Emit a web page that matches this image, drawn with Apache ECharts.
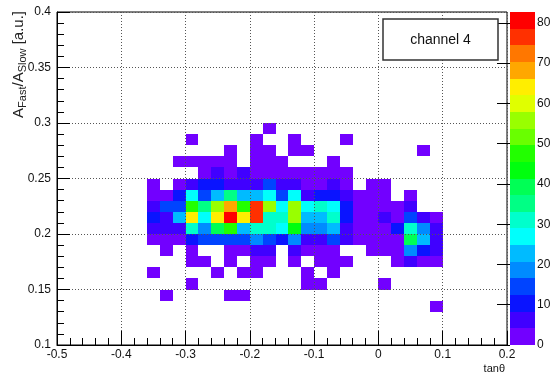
<!DOCTYPE html>
<html><head><meta charset="utf-8">
<script src="https://cdn.jsdelivr.net/npm/echarts@6/dist/echarts.min.js"></script>
<style>html,body{margin:0;padding:0;background:#fff}#c{width:554px;height:374px}</style>
</head><body><div id="c"></div>
<script>
// bin lower edges (x: tanθ, width 0.02; y: A_Fast/A_Slow, height 0.01)
const xLow = [-0.36,-0.34,-0.32,-0.30,-0.28,-0.26,-0.24,-0.22,-0.20,-0.18,-0.16,-0.14,-0.12,-0.10,-0.08,-0.06,-0.04,-0.02,0.00,0.02,0.04,0.06,0.08];
const yLow = [0.13,0.14,0.15,0.16,0.17,0.18,0.19,0.20,0.21,0.22,0.23,0.24,0.25,0.26,0.27,0.28,0.29];
const binW = 0.02, binH = 0.01;
// counts per y row (same order as yLow), one value per xLow column
const row013 = [0,0,0,0,0,0,0,0,0,0,0,0,0,0,0,0,0,0,0,0,0,0,2];
const row014 = [0,2,0,0,0,0,2,2,0,0,0,0,0,0,0,0,0,0,0,0,0,0,0];
const row015 = [0,0,0,2,0,0,0,0,0,0,0,0,2,2,0,0,0,0,2,0,0,0,0];
const row016 = [2,0,0,0,0,2,0,2,2,0,0,0,2,0,2,0,0,0,0,0,0,0,0];
const row017 = [0,0,0,2,2,0,2,0,2,2,0,2,0,2,2,2,0,0,0,2,5,2,2];
const row018 = [0,2,0,2,0,0,2,2,6,6,0,6,2,2,2,0,0,2,2,2,18,11,6];
const row019 = [2,2,2,11,13,13,14,16,18,14,10,18,6,6,13,5,2,2,2,2,38,21,7];
const row020 = [5,5,6,31,18,40,46,23,31,31,27,44,18,18,22,6,2,2,2,10,31,18,7];
const row021 = [12,6,22,63,27,63,81,63,76,31,31,56,22,22,31,12,2,3,6,2,13,6,3];
const row022 = [6,14,14,46,35,55,68,46,76,56,28,56,28,32,28,12,2,2,3,2,6,0,0];
const row023 = [3,3,11,27,15,22,36,22,23,27,14,28,6,11,11,5,2,3,2,0,2,0,0];
const row024 = [2,0,3,5,9,10,7,7,7,13,6,6,3,3,5,2,0,2,2,0,0,0,0];
const row025 = [0,0,0,0,3,6,3,6,3,2,3,3,2,3,2,2,0,0,0,0,0,0,0];
const row026 = [0,0,2,2,3,2,3,0,2,2,2,0,0,0,2,0,0,0,0,0,0,0,0];
const row027 = [0,0,0,0,0,0,2,0,2,2,0,2,2,0,0,0,0,0,0,0,0,2,0];
const row028 = [0,0,0,2,0,0,0,0,2,0,0,2,0,0,0,2,0,0,0,0,0,0,0];
const row029 = [0,0,0,0,0,0,0,0,0,2,0,0,0,0,0,0,0,0,0,0,0,0,0];
const counts = [row013,row014,row015,row016,row017,row018,row019,row020,row021,row022,row023,row024,row025,row026,row027,row028,row029];
const zMax = 82.7;
const zTicks = [0,10,20,30,40,50,60,70,80];
const palette = ['#7200ff','#4000ff','#0a14ff','#0044ff','#008bff','#00bbff','#00fffc','#00ffcc','#00ff85','#00ff55',
                 '#00ff0e','#22ff00','#69ff00','#99ff00','#e0ff00','#ffee00','#ffa700','#ff7700','#ff3000','#ff0000'];
const nBands = palette.length;

function colorFor(v){ let k = Math.floor(v/(zMax/nBands)); if(k>=nBands) k=nBands-1; if(k<0) k=0; return palette[k]; }

const cells = [];
counts.forEach((row, r) => row.forEach((v, c) => { if (v > 0) cells.push([xLow[c], yLow[r], v]); }));
const bands = palette.map((col, k) => [k]);

const FONT = 'Liberation Sans';
const chart = echarts.init(document.getElementById('c'), null, {renderer:'canvas'});
chart.setOption({
  animation:false,
  backgroundColor:'#fff',
  grid:[
    {left:57, top:12, width:450, height:333, show:true, borderColor:'#000', borderWidth:1, backgroundColor:'transparent'},
    {left:510, top:12, width:25, height:333, show:false}
  ],
  xAxis:[
    {gridIndex:0, type:'value', min:-0.5, max:0.2, interval:0.1, z:5,
     axisLine:{show:true, onZero:false, lineStyle:{color:'#000', width:1}},
     axisTick:{show:true, inside:true, length:14, lineStyle:{color:'#000'}},
     minorTick:{show:true, splitNumber:5, length:7, lineStyle:{color:'#000'}},
     splitLine:{show:true, lineStyle:{color:'#555', type:[1,2], width:1}},
     axisLabel:{color:'#111', fontFamily:FONT, fontSize:12, margin:4}},
    {gridIndex:1, type:'value', min:0, max:1, show:false}
  ],
  yAxis:[
    {gridIndex:0, type:'value', min:0.1, max:0.4, interval:0.05, z:5,
     axisLine:{show:true, onZero:false, lineStyle:{color:'#000', width:1}},
     axisTick:{show:true, inside:true, length:13, lineStyle:{color:'#000'}},
     minorTick:{show:true, splitNumber:5, length:7, lineStyle:{color:'#000'}},
     splitLine:{show:true, lineStyle:{color:'#555', type:[1,2], width:1}},
     axisLabel:{color:'#111', fontFamily:FONT, fontSize:12, margin:6}},
    {gridIndex:1, type:'value', min:0, max:zMax, position:'right', z:5,
     axisLine:{show:false},
     axisTick:{show:true, inside:true, length:13, customValues:zTicks, lineStyle:{color:'#000'}},
     axisLabel:{color:'#111', fontFamily:FONT, fontSize:12, margin:2, customValues:zTicks},
     splitLine:{show:false}}
  ],
  series:[
    {type:'custom', xAxisIndex:0, yAxisIndex:0, z:1, data:cells, clip:true,
     renderItem:(params, api) => {
       const x0 = api.value(0), y0 = api.value(1), v = api.value(2);
       const p1 = api.coord([x0, y0 + binH]);
       const p2 = api.coord([x0 + binW, y0]);
       const X1 = Math.round(p1[0]), Y1 = Math.round(p1[1]), X2 = Math.round(p2[0]), Y2 = Math.round(p2[1]);
       return {type:'rect', shape:{x:X1, y:Y1, width:X2-X1, height:Y2-Y1}, style:{fill:colorFor(v)}};
     }},
    {type:'custom', xAxisIndex:1, yAxisIndex:1, z:1, data:bands,
     renderItem:(params, api) => {
       const k = api.value(0);
       const p1 = api.coord([0, (k+1)*zMax/nBands]);
       const p2 = api.coord([1, k*zMax/nBands]);
       const X1 = Math.round(p1[0]), Y1 = Math.round(p1[1]), X2 = Math.round(p2[0]), Y2 = Math.round(p2[1]);
       return {type:'rect', shape:{x:X1, y:Y1, width:X2-X1, height:Y2-Y1}, style:{fill:palette[k]}};
     }}
  ],
  graphic:[
    {type:'rect', shape:{x:383, y:19, width:115, height:41}, style:{fill:'#fff', stroke:'#333', lineWidth:1.5}, z:10},
    {type:'text', x:440.5, y:40, z:11, style:{text:'channel 4', align:'center', verticalAlign:'middle', font:'14px "Liberation Sans"', fill:'#111'}},
    {type:'text', x:505, y:369, z:11, style:{text:'tanθ', align:'right', verticalAlign:'middle', font:'11px "Liberation Sans"', fill:'#111'}},
    {type:'text', x:19, y:11, rotation:Math.PI/2, z:11,
     style:{text:'{n|A}{s|Fast}{n|/A}{s|Slow}{n| [a.u.]}', align:'right', verticalAlign:'middle', fill:'#222',
       rich:{n:{fontFamily:FONT, fontSize:15, lineHeight:18, fill:'#222'}, s:{fontFamily:FONT, fontSize:11, lineHeight:11, verticalAlign:'bottom', fill:'#222'}}}}
  ]
});
</script></body></html>
